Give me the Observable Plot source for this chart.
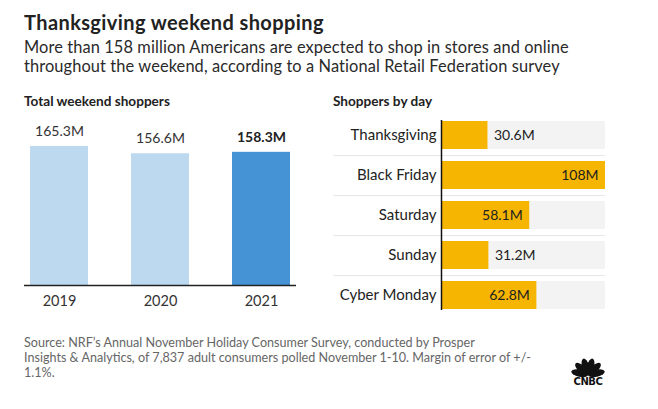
<!DOCTYPE html>
<html>
<head>
<meta charset="utf-8">
<script src="https://cdn.jsdelivr.net/npm/d3@7"></script>
<script src="https://cdn.jsdelivr.net/npm/@observablehq/plot@0.6"></script>
<style>
  html, body { margin: 0; padding: 0; background: #fff; }
  body { width: 658px; height: 409px; position: relative; overflow: hidden; font-family: Lato, "Open Sans", sans-serif; color: #222; }
  .abs { position: absolute; white-space: nowrap; }
  #title { left: 24px; top: 10px; font-size: 20px; letter-spacing: 0.4px; font-weight: 700; color: #222; }
  #subtitle { left: 24px; top: 37px; font-size: 16.4px; letter-spacing: 0.1px; line-height: 19px; color: #2a2a2a; }
  .panel-title { font-size: 13.6px; font-weight: 700; color: #222; top: 93px; }
  #lt { left: 24px; }
  #rt { left: 333px; }
  #left { left: 0px; top: 110px; }
  #right { left: 320px; top: 110px; }
  #caption { left: 24px; top: 335px; font-size: 12.6px; line-height: 15px; color: #666; }
  #logo { left: 566px; top: 355px; }
</style>
</head>
<body>
<div id="title" class="abs">Thanksgiving weekend shopping</div>
<div id="subtitle" class="abs">More than 158 million Americans are expected to shop in stores and online<br>throughout the weekend, according to a National Retail Federation survey</div>
<div id="lt" class="abs panel-title">Total weekend shoppers</div>
<div id="rt" class="abs panel-title">Shoppers by day</div>
<div id="left" class="abs"></div>
<div id="right" class="abs"></div>
<div id="caption" class="abs">Source: NRF’s Annual November Holiday Consumer Survey, conducted by Prosper<br>Insights &amp; Analytics, of 7,837 adult consumers polled November 1-10. Margin of error of +/-<br>1.1%.</div>
<svg id="logo" class="abs" width="44" height="32" viewBox="0 0 44 32">
  <g fill="#111" transform="translate(22,20)">
    <ellipse cx="0" cy="-8.5" rx="3.6" ry="8.5" transform="rotate(-78)"/>
    <ellipse cx="0" cy="-8.5" rx="3.6" ry="8.5" transform="rotate(-47)"/>
    <ellipse cx="0" cy="-8.5" rx="3.6" ry="8.5" transform="rotate(-16)"/>
    <ellipse cx="0" cy="-8.5" rx="3.6" ry="8.5" transform="rotate(16)"/>
    <ellipse cx="0" cy="-8.5" rx="3.6" ry="8.5" transform="rotate(47)"/>
    <ellipse cx="0" cy="-8.5" rx="3.6" ry="8.5" transform="rotate(78)"/>
  </g>
  <text x="22" y="30" text-anchor="middle" font-family="'DejaVu Sans', sans-serif" font-weight="700" font-size="10" fill="#111" letter-spacing="-0.4">CNBC</text>
</svg>
<script>
// ---- Data ----
const years = ["2019", "2020", "2021"];
const totals = [165.3, 156.6, 158.3];
const totalLabels = ["165.3M", "156.6M", "158.3M"];
const currentYear = "2021";

const days = ["Thanksgiving", "Black Friday", "Saturday", "Sunday", "Cyber Monday"];
const dayValues = [30.6, 108, 58.1, 31.2, 62.8];
const dayLabels = ["30.6M", "108M", "58.1M", "31.2M", "62.8M"];

// ---- Tables ----
const totalData = years.map((y, i) => ({year: y, value: totals[i], label: totalLabels[i]}));
const dayData = days.map((d, i) => ({day: d, value: dayValues[i], label: dayLabels[i]}));
const maxDay = d3.max(dayValues);

const font = "Lato, 'Open Sans', sans-serif";

// ---- Left chart ----
const left = Plot.plot({
  width: 310, height: 205,
  marginLeft: 24, marginRight: 14, marginTop: 0, marginBottom: 30,
  style: {fontFamily: font, fontSize: "14.5px", color: "#333", background: "transparent"},
  x: {domain: years, paddingInner: 0.43, paddingOuter: 0.05, label: null, tickSize: 0, tickPadding: 10},
  y: {domain: [0, 208], axis: null},
  marks: [
    Plot.barY(totalData.filter(d => d.year !== currentYear), {x: "year", y: "value", fill: "#bcd9f0"}),
    Plot.barY(totalData.filter(d => d.year === currentYear), {x: "year", y: "value", fill: "#4592d5"}),
    Plot.ruleY([0], {stroke: "#222", strokeWidth: 1.5}),
    Plot.text(totalData.filter(d => d.year !== currentYear), {x: "year", y: "value", text: "label", dy: -15, fontSize: 14, fill: "#333"}),
    Plot.text(totalData.filter(d => d.year === currentYear), {x: "year", y: "value", text: "label", dy: -15, fontSize: 14, fontWeight: 700, fill: "#222"})
  ]
});
document.getElementById("left").appendChild(left);

// ---- Right chart ----
const right = Plot.plot({
  width: 338, height: 210,
  marginLeft: 121, marginRight: 53, marginTop: 4, marginBottom: 5,
  style: {fontFamily: font, fontSize: "15px", color: "#222", background: "transparent"},
  x: {domain: [0, maxDay], axis: null},
  y: {domain: days, paddingInner: 0.3, paddingOuter: 0.15, label: null, tickSize: 0, tickPadding: 5},
  marks: [
    Plot.barX(dayData, {y: "day", x1: 0, x2: maxDay, fill: "#f3f3f3"}),
    Plot.ruleY(days.slice(0, -1), {y: d => d, dy: 20.1, stroke: "#e6e6e6", strokeWidth: 1, insetLeft: -108}),
    Plot.barX(dayData, {y: "day", x: "value", fill: "#f6b500"}),
    Plot.ruleX([0], {stroke: "#111", strokeWidth: 1.5, insetTop: 6, insetBottom: 5}),
    Plot.text(dayData.filter(d => d.value >= 45), {y: "day", x: "value", text: "label", textAnchor: "end", dx: -7, fontSize: 14, fill: "#222"}),
    Plot.text(dayData.filter(d => d.value < 45), {y: "day", x: "value", text: "label", textAnchor: "start", dx: 6, fontSize: 14, fill: "#222"})
  ]
});
document.getElementById("right").appendChild(right);
</script>
</body>
</html>
